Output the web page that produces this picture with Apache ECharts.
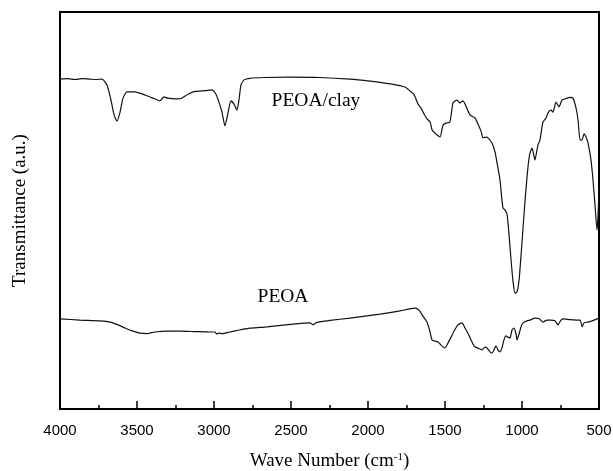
<!DOCTYPE html>
<html>
<head>
<meta charset="utf-8">
<script src="https://cdn.jsdelivr.net/npm/echarts@6/dist/echarts.min.js"></script>
<style>
  html, body { margin: 0; padding: 0; background: #fff; }
  #main { width: 613px; height: 471px; }
</style>
</head>
<body>
<div id="main"></div>
<script>
// wave numbers (cm-1) and transmittance (a.u.)
const clayWave = [4000, 3948, 3903, 3857, 3805, 3773, 3727, 3695, 3669, 3649, 3630, 3610, 3591, 3565, 3513, 3448, 3383, 3351, 3325, 3299, 3253, 3214, 3169, 3123, 3058, 3013, 2987, 2968, 2948, 2929, 2909, 2890, 2870, 2851, 2838, 2825, 2805, 2766, 2669, 2506, 2312, 2117, 1987, 1890, 1812, 1760, 1727, 1701, 1675, 1656, 1636, 1617, 1597, 1584, 1565, 1552, 1532, 1513, 1494, 1468, 1448, 1422, 1403, 1383, 1364, 1338, 1305, 1286, 1266, 1253, 1234, 1221, 1195, 1175, 1162, 1143, 1130, 1123, 1110, 1097, 1084, 1071, 1058, 1045, 1032, 1019, 1006, 993, 980, 961, 948, 935, 922, 916, 903, 896, 883, 864, 844, 831, 812, 799, 779, 760, 740, 714, 688, 669, 649, 636, 623, 610, 597, 584, 571, 552, 539, 526, 513, 506, 500];
const clayT = [83.1, 83.2, 83.0, 83.2, 83.1, 83.0, 83.1, 81.6, 77.8, 74.1, 72.5, 74.8, 78.3, 79.9, 79.9, 79.1, 78.1, 77.6, 78.6, 78.3, 78.1, 78.2, 79.3, 80.0, 80.2, 80.4, 79.3, 77.3, 74.8, 71.3, 74.6, 77.6, 76.8, 75.3, 77.8, 81.6, 82.9, 83.3, 83.5, 83.6, 83.5, 83.1, 82.6, 82.1, 81.6, 81.1, 80.1, 79.2, 76.8, 75.8, 74.3, 73.1, 72.3, 70.3, 69.5, 69.0, 68.5, 71.5, 72.0, 72.3, 77.1, 77.8, 77.1, 77.6, 76.3, 74.1, 73.3, 71.8, 70.0, 68.3, 68.5, 68.3, 67.0, 64.7, 62.0, 57.7, 52.6, 50.6, 50.1, 49.1, 43.8, 37.5, 32.0, 29.2, 29.5, 32.5, 38.8, 45.8, 52.6, 61.0, 64.5, 65.7, 63.7, 62.7, 65.2, 66.5, 67.8, 72.3, 73.3, 74.6, 75.3, 74.8, 77.3, 76.1, 77.8, 78.2, 78.5, 78.3, 75.8, 72.8, 67.8, 67.8, 69.3, 68.5, 67.0, 62.7, 57.7, 51.4, 45.1, 48.9, 55.9];

const peoaWave = [4000, 3870, 3740, 3675, 3623, 3578, 3526, 3481, 3435, 3383, 3305, 3221, 3123, 3026, 2994, 2981, 2968, 2948, 2896, 2799, 2656, 2506, 2377, 2357, 2331, 2247, 2117, 1922, 1792, 1695, 1669, 1643, 1617, 1597, 1584, 1565, 1545, 1526, 1500, 1481, 1461, 1442, 1416, 1390, 1370, 1351, 1331, 1312, 1292, 1273, 1260, 1240, 1227, 1208, 1195, 1182, 1169, 1156, 1143, 1130, 1117, 1104, 1091, 1078, 1065, 1052, 1039, 1032, 1019, 1006, 993, 968, 948, 916, 890, 864, 838, 812, 786, 766, 747, 727, 688, 649, 623, 610, 597, 571, 532, 500];
const peoaT = [22.7, 22.4, 22.2, 21.9, 21.2, 20.4, 19.6, 19.1, 19.0, 19.4, 19.6, 19.6, 19.5, 19.4, 19.4, 18.9, 19.1, 19.0, 19.4, 20.2, 20.7, 21.3, 21.7, 21.2, 21.8, 22.3, 22.9, 23.9, 24.7, 25.4, 24.9, 23.4, 21.9, 19.4, 17.4, 17.1, 16.9, 16.1, 15.4, 16.6, 18.1, 19.6, 21.2, 21.7, 20.4, 19.1, 17.4, 15.9, 15.4, 15.1, 14.9, 15.6, 15.4, 14.4, 14.1, 14.9, 15.9, 14.9, 14.4, 15.4, 17.4, 18.4, 18.1, 17.9, 19.9, 20.4, 18.9, 17.4, 18.9, 20.7, 21.7, 22.2, 22.4, 22.9, 22.8, 21.9, 22.4, 22.4, 22.2, 21.2, 22.4, 22.7, 22.5, 22.4, 22.4, 20.7, 21.7, 21.9, 22.4, 22.9];

// where the curve names sit: [wave number, transmittance]
const clayLabel = [2338, 77.6];
const peoaLabel = [2552, 28.2];

const serif = '"Liberation Serif", "DejaVu Serif", serif';

function pairs(xs, ys) {
  return xs.map((x, i) => [x, ys[i]]);
}

function curveLabel(name, pos) {
  return {
    symbol: 'circle',
    symbolSize: 1,
    silent: true,
    itemStyle: { color: 'rgba(0,0,0,0)' },
    label: {
      show: true,
      position: 'inside',
      formatter: name,
      color: '#000',
      fontFamily: serif,
      fontSize: 19.5
    },
    data: [{ coord: pos }]
  };
}

const chart = echarts.init(document.getElementById('main'));
chart.setOption({
  animation: false,
  backgroundColor: '#fff',
  grid: {
    left: 60,
    right: 14,
    top: 12,
    bottom: 62,
    outerBoundsMode: 'none',
    containLabel: false,
    show: true,
    borderColor: '#000',
    borderWidth: 2,
    backgroundColor: 'transparent'
  },
  xAxis: {
    type: 'value',
    inverse: true,
    min: 500,
    max: 4000,
    interval: 500,
    name: '{a|Wave Number (cm}{b|-1}{a|)}',
    nameLocation: 'middle',
    nameGap: 43,
    nameTextStyle: {
      rich: {
        a: { fontFamily: serif, fontSize: 19, color: '#000' },
        b: { fontFamily: serif, fontSize: 11, color: '#000', verticalAlign: 'top', padding: [0, 0, 8, 0] }
      }
    },
    axisLine: { show: true, lineStyle: { color: '#000', width: 2 } },
    axisTick: { show: true, inside: true, length: 8, lineStyle: { color: '#000', width: 1.5 } },
    minorTick: { show: true, splitNumber: 2, length: 4, lineStyle: { color: '#000', width: 1.5 } },
    axisLabel: {
      color: '#000',
      fontFamily: 'Arial, "Liberation Sans", sans-serif',
      fontSize: 15,
      margin: 14,
      formatter: v => String(v)
    },
    splitLine: { show: false }
  },
  yAxis: {
    type: 'value',
    min: 0,
    max: 100,
    name: 'Transmittance (a.u.)',
    nameLocation: 'middle',
    nameGap: 30,
    nameTextStyle: { fontFamily: serif, fontSize: 19, color: '#000' },
    axisLine: { show: true, lineStyle: { color: '#000', width: 2 } },
    axisTick: { show: false },
    axisLabel: { show: false },
    splitLine: { show: false }
  },
  series: [
    {
      name: 'PEOA/clay',
      type: 'line',
      data: pairs(clayWave, clayT),
      showSymbol: false,
      smooth: 0.2,
      lineStyle: { color: '#111', width: 1.2 },
      markPoint: curveLabel('PEOA/clay', clayLabel)
    },
    {
      name: 'PEOA',
      type: 'line',
      data: pairs(peoaWave, peoaT),
      showSymbol: false,
      smooth: 0.2,
      lineStyle: { color: '#111', width: 1.2 },
      markPoint: curveLabel('PEOA', peoaLabel)
    }
  ]
});
</script>
</body>
</html>
